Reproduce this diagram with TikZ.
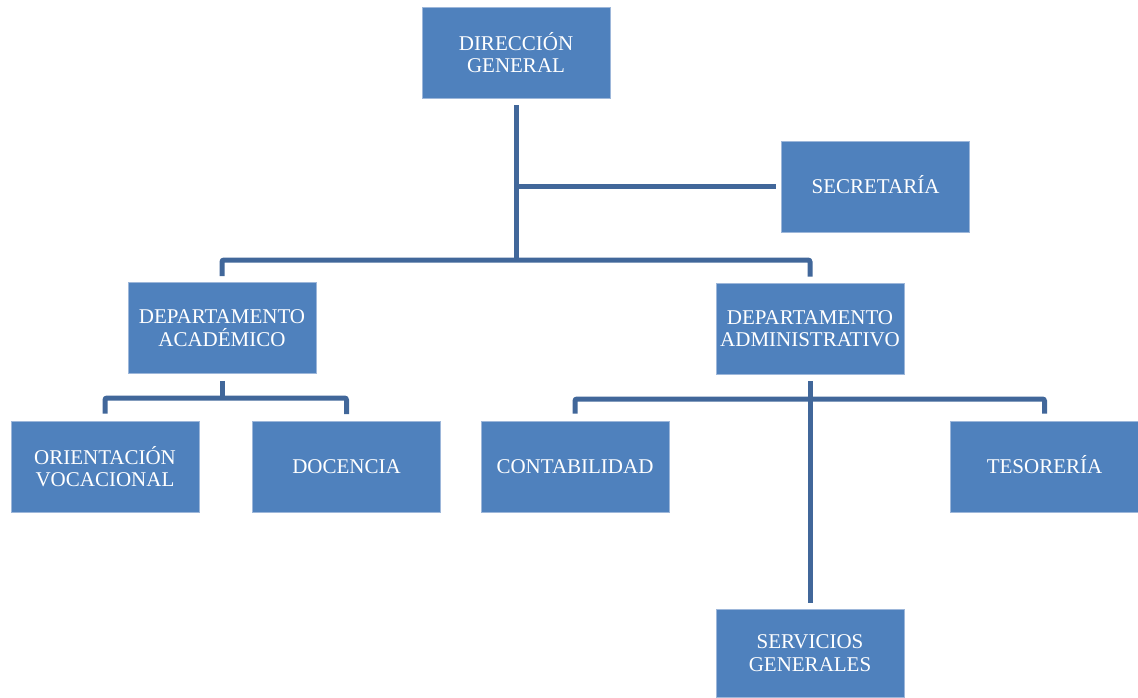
\documentclass[tikz,border=0pt]{standalone}
\usepackage{fontspec}
\setmainfont{Liberation Serif}
\definecolor{boxblue}{HTML}{4F81BD}
\definecolor{boxedge}{HTML}{9DB7DA}
\definecolor{linkblue}{HTML}{41679A}
\begin{document}
\begin{tikzpicture}[x=1pt,y=-1pt,
  orgbox/.style={draw=boxedge,line width=0.8pt,fill=boxblue,text=white,
    minimum width=188pt,minimum height=91pt,inner sep=0pt,align=center,
    font=\fontsize{21}{22.5}\selectfont},
  onebox/.style={orgbox,text height=13pt,text depth=0pt},
  conn/.style={draw=linkblue,line width=5pt,rounded corners=2pt}]
\useasboundingbox (0,0) rectangle (1138,697);
\node[orgbox] (dg)  at (516,52.5)  {DIRECCIÓN\\GENERAL};
\node[onebox] (sec) at (875.5,186.5) {SECRETARÍA};
\node[orgbox] (dac) at (222,328)   {DEPARTAMENTO\\ACADÉMICO};
\node[orgbox] (dad) at (810,328.5) {DEPARTAMENTO\\ADMINISTRATIVO};
\node[orgbox] (ori) at (105,466.5) {ORIENTACIÓN\\VOCACIONAL};
\node[onebox] (doc) at (346.5,467) {DOCENCIA};
\node[onebox] (con) at (575,466.5) {CONTABILIDAD};
\node[onebox] (tes) at (1044.5,466.5) {TESORERÍA};
\node[orgbox,minimum height=88pt] (ser) at (810,653) {SERVICIOS\\GENERALES};
\coordinate (b1) at (516,260);
\coordinate (b2) at (222,398);
\coordinate (b3) at (810,399);
\draw[conn] ([yshift=-7pt]dg.south) -- (b1);
\draw[conn] (dg.south |- sec.west) -- ([xshift=-5pt]sec.west);
\draw[conn] ([yshift=6pt]dac.north) |- (b1) -| ([yshift=6pt]dad.north);
\draw[conn] ([yshift=-7pt]dac.south) -- (b2);
\draw[conn] ([yshift=7pt]ori.north) |- (b2) -| ([yshift=7pt]doc.north);
\draw[conn] ([yshift=-7pt]dad.south) -- ([yshift=6pt]ser.north);
\draw[conn] ([yshift=7pt]con.north) |- (b3) -| ([yshift=7pt]tes.north);
\end{tikzpicture}
\end{document}
